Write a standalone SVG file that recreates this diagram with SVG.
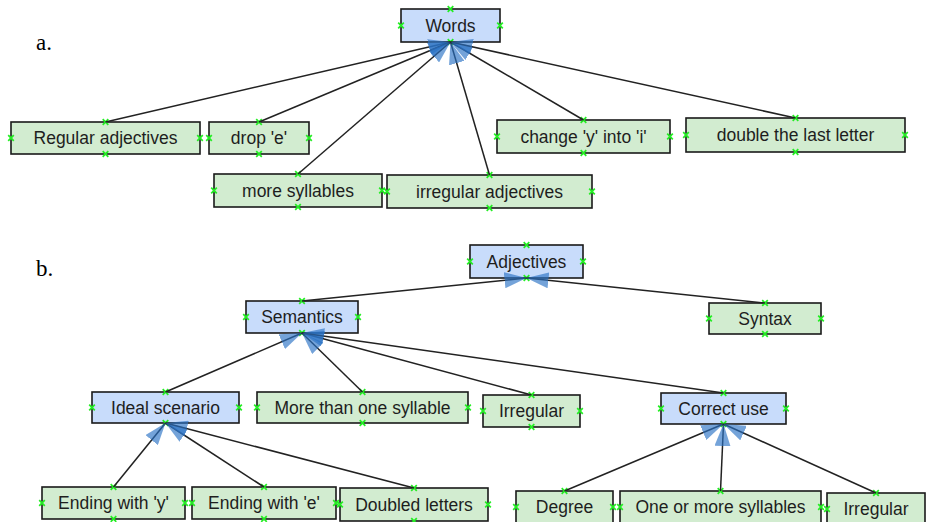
<svg xmlns="http://www.w3.org/2000/svg" xmlns:xlink="http://www.w3.org/1999/xlink" width="926" height="522" viewBox="0 0 926 522">
<style>
.g{fill:#d2ecd0;stroke:#1a1a1a;stroke-width:1.6}
.b{fill:#c8dcfb;stroke:#1a1a1a;stroke-width:1.6}
.t{font-family:"Liberation Sans",Arial,sans-serif;font-size:17.5px;fill:#1e1e1e;text-anchor:middle}
.lab{font-family:"Liberation Serif","Times New Roman",serif;font-size:23px;fill:#000}
.c line{stroke:#222;stroke-width:1.5;marker-end:url(#arr)}
</style>
<defs>
<marker id="arr" viewBox="0 0 22 16" refX="22" refY="8" markerWidth="22" markerHeight="16" markerUnits="userSpaceOnUse" orient="auto">
<path d="M0,0 L22,8 L0,16 z" fill="#2a72c4" fill-opacity="0.65"/>
</marker>
<path id="x" d="M-2.8,-2.8 L2.8,2.8 M-2.8,2.8 L2.8,-2.8" stroke="#22ee22" stroke-width="1.7" fill="none"/>
</defs>
<rect width="926" height="522" fill="#fff"/>
<text class="lab" x="36" y="50">a.</text>
<text class="lab" x="36" y="276">b.</text>

<g id="n-words"><rect class="b" x="401" y="9" width="99" height="33"/><text class="t" x="450.5" y="31.5">Words</text><use href="#x" x="450.5" y="9"/><use href="#x" x="450.5" y="42"/><use href="#x" x="401" y="25.5"/><use href="#x" x="500" y="25.5"/></g>
<g id="n-regadj"><rect class="g" x="11" y="122" width="189" height="32"/><text class="t" x="105.5" y="144">Regular adjectives</text><use href="#x" x="105.5" y="122"/><use href="#x" x="105.5" y="154"/><use href="#x" x="11" y="138"/><use href="#x" x="200" y="138"/></g>
<g id="n-drope"><rect class="g" x="209" y="122" width="100" height="32"/><text class="t" x="259" y="144">drop 'e'</text><use href="#x" x="259" y="122"/><use href="#x" x="259" y="154"/><use href="#x" x="209" y="138"/><use href="#x" x="309" y="138"/></g>
<g id="n-moresyl"><rect class="g" x="214" y="174" width="168" height="33"/><text class="t" x="298" y="196.5">more syllables</text><use href="#x" x="298" y="174"/><use href="#x" x="298" y="207"/><use href="#x" x="214" y="190.5"/><use href="#x" x="382" y="190.5"/></g>
<g id="n-irradj"><rect class="g" x="387" y="175" width="205" height="33"/><text class="t" x="489.5" y="197.5">irregular adjectives</text><use href="#x" x="489.5" y="175"/><use href="#x" x="489.5" y="208"/><use href="#x" x="387" y="191.5"/><use href="#x" x="592" y="191.5"/></g>
<g id="n-changey"><rect class="g" x="497" y="120" width="173" height="33"/><text class="t" x="583.5" y="142.5">change 'y' into 'i'</text><use href="#x" x="583.5" y="120"/><use href="#x" x="583.5" y="153"/><use href="#x" x="497" y="136.5"/><use href="#x" x="670" y="136.5"/></g>
<g id="n-double"><rect class="g" x="686" y="118" width="219" height="34"/><text class="t" x="795.5" y="141">double the last letter</text><use href="#x" x="795.5" y="118"/><use href="#x" x="795.5" y="152"/><use href="#x" x="686" y="135"/><use href="#x" x="905" y="135"/></g>

<g id="n-adjectives"><rect class="b" x="470" y="245" width="113" height="33"/><text class="t" x="526.5" y="267.5">Adjectives</text><use href="#x" x="526.5" y="245"/><use href="#x" x="526.5" y="278"/><use href="#x" x="470" y="261.5"/><use href="#x" x="583" y="261.5"/></g>
<g id="n-semantics"><rect class="b" x="246" y="301" width="112" height="32"/><text class="t" x="302" y="323">Semantics</text><use href="#x" x="302" y="301"/><use href="#x" x="302" y="333"/><use href="#x" x="246" y="317"/><use href="#x" x="358" y="317"/></g>
<g id="n-syntax"><rect class="g" x="709" y="303" width="112" height="31"/><text class="t" x="765" y="324.5">Syntax</text><use href="#x" x="765" y="303"/><use href="#x" x="765" y="334"/><use href="#x" x="709" y="318.5"/><use href="#x" x="821" y="318.5"/></g>
<g id="n-ideal"><rect class="b" x="92" y="392" width="147" height="31"/><text class="t" x="165.5" y="413.5">Ideal scenario</text><use href="#x" x="165.5" y="392"/><use href="#x" x="165.5" y="423"/><use href="#x" x="92" y="407.5"/><use href="#x" x="239" y="407.5"/></g>
<g id="n-morethan"><rect class="g" x="257" y="392" width="211" height="31"/><text class="t" x="362.5" y="413.5">More than one syllable</text><use href="#x" x="362.5" y="392"/><use href="#x" x="362.5" y="423"/><use href="#x" x="257" y="407.5"/><use href="#x" x="468" y="407.5"/></g>
<g id="n-irregular1"><rect class="g" x="483" y="395" width="97" height="32"/><text class="t" x="531.5" y="417">Irregular</text><use href="#x" x="531.5" y="395"/><use href="#x" x="531.5" y="427"/><use href="#x" x="483" y="411"/><use href="#x" x="580" y="411"/></g>
<g id="n-correct"><rect class="b" x="661" y="393" width="125" height="31"/><text class="t" x="723.5" y="414.5">Correct use</text><use href="#x" x="723.5" y="393"/><use href="#x" x="723.5" y="424"/><use href="#x" x="661" y="408.5"/><use href="#x" x="786" y="408.5"/></g>
<g id="n-endy"><rect class="g" x="42" y="487" width="143" height="32"/><text class="t" x="113.5" y="509">Ending with 'y'</text><use href="#x" x="113.5" y="487"/><use href="#x" x="113.5" y="519"/><use href="#x" x="42" y="503"/><use href="#x" x="185" y="503"/></g>
<g id="n-ende"><rect class="g" x="192" y="487" width="144" height="32"/><text class="t" x="264" y="509">Ending with 'e'</text><use href="#x" x="264" y="487"/><use href="#x" x="264" y="519"/><use href="#x" x="192" y="503"/><use href="#x" x="336" y="503"/></g>
<g id="n-doubled"><rect class="g" x="340" y="488" width="148" height="33"/><text class="t" x="414" y="510.5">Doubled letters</text><use href="#x" x="414" y="488"/><use href="#x" x="414" y="521"/><use href="#x" x="340" y="504.5"/><use href="#x" x="488" y="504.5"/></g>
<g id="n-degree"><rect class="g" x="516" y="491" width="97" height="32"/><text class="t" x="564.5" y="513">Degree</text><use href="#x" x="564.5" y="491"/><use href="#x" x="516" y="507"/><use href="#x" x="613" y="507"/></g>
<g id="n-oneormore"><rect class="g" x="620" y="491" width="201" height="32"/><text class="t" x="720.5" y="513">One or more syllables</text><use href="#x" x="720.5" y="491"/><use href="#x" x="620" y="507"/><use href="#x" x="821" y="507"/></g>
<g id="n-irregular2"><rect class="g" x="827" y="493" width="98" height="32"/><text class="t" x="876" y="515">Irregular</text><use href="#x" x="876" y="493"/><use href="#x" x="827" y="509"/></g>

<g id="connectors" class="c">
<line x1="105.5" y1="122" x2="450.5" y2="42"/>
<line x1="259" y1="122" x2="450.5" y2="42"/>
<line x1="298" y1="174" x2="450.5" y2="42"/>
<line x1="489.5" y1="175" x2="450.5" y2="42"/>
<line x1="583.5" y1="120" x2="450.5" y2="42"/>
<line x1="795.5" y1="118" x2="450.5" y2="42"/>
<line x1="302" y1="301" x2="526.5" y2="278"/>
<line x1="765" y1="303" x2="526.5" y2="278"/>
<line x1="165.5" y1="392" x2="302" y2="333"/>
<line x1="362.5" y1="392" x2="302" y2="333"/>
<line x1="531.5" y1="395" x2="302" y2="333"/>
<line x1="723.5" y1="393" x2="302" y2="333"/>
<line x1="113.5" y1="487" x2="165.5" y2="423"/>
<line x1="264" y1="487" x2="165.5" y2="423"/>
<line x1="414" y1="488" x2="165.5" y2="423"/>
<line x1="564.5" y1="491" x2="723.5" y2="424"/>
<line x1="720.5" y1="491" x2="723.5" y2="424"/>
<line x1="876" y1="493" x2="723.5" y2="424"/>
</g>
</svg>
